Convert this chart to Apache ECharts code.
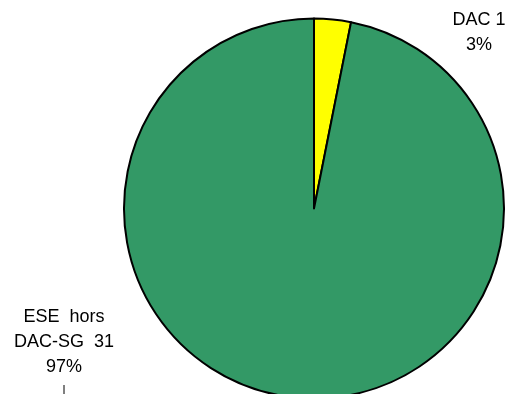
<!DOCTYPE html>
<html>
<head>
<meta charset="utf-8">
<script src="https://cdn.jsdelivr.net/npm/echarts@6/dist/echarts.min.js"></script>
<style>
html,body{margin:0;padding:0;background:#fff;}
#chart{width:507px;height:394px;}
</style>
</head>
<body>
<div id="chart"></div>
<script>
var categories = ['DAC 1', 'ESE  hors\nDAC-SG  31'];
var values = [1, 31];
var colors = ['#FFFF00', '#339966'];

var chart = echarts.init(document.getElementById('chart'), null, {renderer: 'canvas'});
var data = categories.map(function (c, i) {
  return {
    name: c,
    value: values[i],
    itemStyle: {color: colors[i]},
    labelLine: {show: i === 1}
  };
});

chart.setOption({
  animation: false,
  backgroundColor: '#ffffff',
  series: [{
    type: 'pie',
    center: [314, 208.5],
    radius: 190,
    startAngle: 90,
    clockwise: true,
    avoidLabelOverlap: false,
    itemStyle: {borderColor: '#000000', borderWidth: 2},
    label: {
      show: true,
      color: '#000000',
      fontFamily: 'Liberation Sans, Arial, sans-serif',
      fontSize: 18,
      lineHeight: 25,
      align: 'center',
      formatter: function (p) { return p.name + '\n' + Math.round(p.percent) + '%'; }
    },
    labelLine: {show: true, lineStyle: {color: '#000000', width: 1}},
    labelLayout: function (p) {
      if (p.dataIndex === 0) {
        return {x: 479, y: 32.5, align: 'center', verticalAlign: 'middle'};
      }
      return {
        x: 64, y: 342, align: 'center', verticalAlign: 'middle',
        labelLinePoints: [[64, 400], [64, 394], [64, 385]]
      };
    },
    data: data
  }]
});
</script>
</body>
</html>
